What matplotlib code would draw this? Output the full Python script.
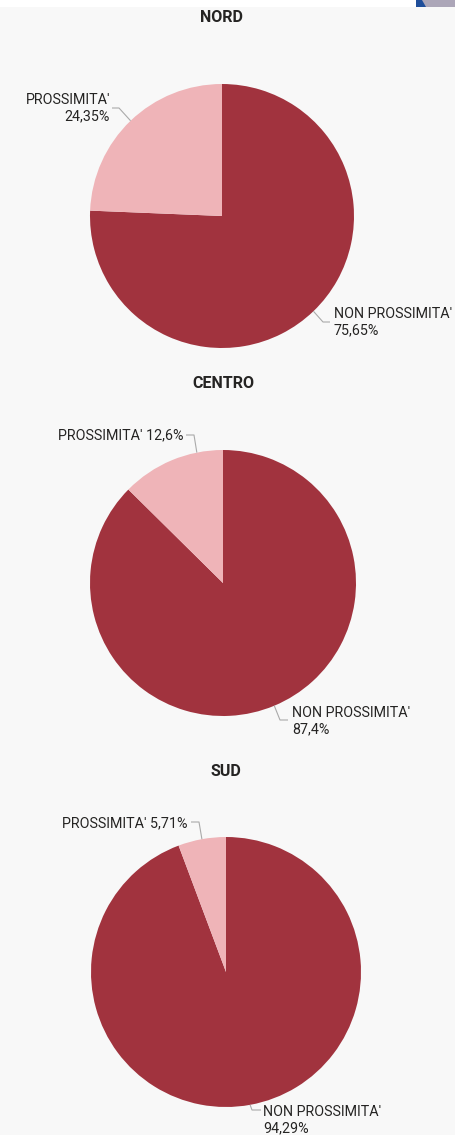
import numpy as np
import matplotlib
matplotlib.use('Agg')
import matplotlib.pyplot as plt
from matplotlib.patches import Rectangle, Polygon

# ── Dati ──────────────────────────────────────────────────────────
regioni = ['NORD', 'CENTRO', 'SUD']
categorie = ["NON PROSSIMITA'", "PROSSIMITA'"]
non_prossimita = [75.65, 87.4, 94.29]
prossimita = [24.35, 12.6, 5.71]

# ── Stile ─────────────────────────────────────────────────────────
COL_SCURO = '#a1333e'
COL_CHIARO = '#efb4b8'
COL_TESTO = '#252423'
COL_LINEA = '#aaaaaa'
SFONDO = '#f8f8f8'

W, H = 456, 1135
plt.rcParams['font.family'] = ['Roboto', 'DejaVu Sans']

# layout in pixel (centro x, centro y, raggio, y titolo)
layout = [
    (222, 216, 132, 18),
    (223, 583, 133, 384),
    (226, 972, 135, 771),
]
# posizione etichette: frazione dello spicchio per l'aggancio, gomito, fine linea,
# testo (x, y, allineamento, su due righe?)
etichette = {
    'NORD': [
        (0.5, (323, 322), (330, 322), (334, 322, 'left', True)),
        (0.5, (119, 108), (112, 108), (110, 108, 'right', True)),
    ],
    'CENTRO': [
        (0.5, (280, 720), (288, 720), (292, 721, 'left', True)),
        (0.25, (194, 435), (186, 435), (184, 435, 'right', False)),
    ],
    'SUD': [
        (0.5, (252, 1110), (261, 1110), (263, 1120, 'left', True)),
        (0.5, (199, 822), (191, 822), (188, 823, 'right', False)),
    ],
}


def fmt(v):
    return f'{v:g}'.replace('.', ',') + '%'


fig = plt.figure(figsize=(W / 100, H / 100), dpi=100)
fig.patch.set_facecolor(SFONDO)
ax = fig.add_axes([0, 0, 1, 1])
ax.set_facecolor(SFONDO)

for i, reg in enumerate(regioni):
    cx, cy, R, ty = layout[i]
    valori = [non_prossimita[i], prossimita[i]]
    wedges, _ = ax.pie(valori, colors=[COL_SCURO, COL_CHIARO], startangle=90,
                       counterclock=False, center=(cx, H - cy), radius=R,
                       wedgeprops=dict(linewidth=0))
    ax.text(cx, H - ty, reg, ha='center', va='center', fontsize=11.5,
            fontweight='bold', color=COL_TESTO)

    for w, v, cat, (frac, gomito, fine, (tx, tyy, ha, due)) in zip(
            wedges, valori, categorie, etichette[reg]):
        ang = np.deg2rad(w.theta1 + frac * (w.theta2 - w.theta1))
        ax0 = cx + R * np.cos(ang)
        ay0 = H - cy + R * np.sin(ang)
        ax.plot([ax0, gomito[0], fine[0]], [ay0, H - gomito[1], H - fine[1]],
                color=COL_LINEA, lw=0.8, solid_capstyle='butt')
        testo = f'{cat}\n{fmt(v)}' if due else f'{cat} {fmt(v)}'
        ax.text(tx, H - tyy, testo, ha=ha, va='center', fontsize=10.3,
                color=COL_TESTO, linespacing=1.2, multialignment=ha)

# striscia bianca in alto e angolo decorativo
ax.add_patch(Rectangle((0, H - 7), W, 7, facecolor='white', edgecolor='none', zorder=5))
ax.add_patch(Rectangle((416, H - 7), 40, 7, facecolor='#aca6b8', edgecolor='none', zorder=6))
ax.add_patch(Polygon([(416, H), (422, H), (426, H - 7), (416, H - 7)],
                     facecolor='#1f4e9a', edgecolor='none', zorder=7))

ax.set_xlim(0, W)
ax.set_ylim(0, H)
ax.set_aspect('auto')
ax.axis('off')

fig.savefig('out.png', dpi=100, facecolor=SFONDO)
